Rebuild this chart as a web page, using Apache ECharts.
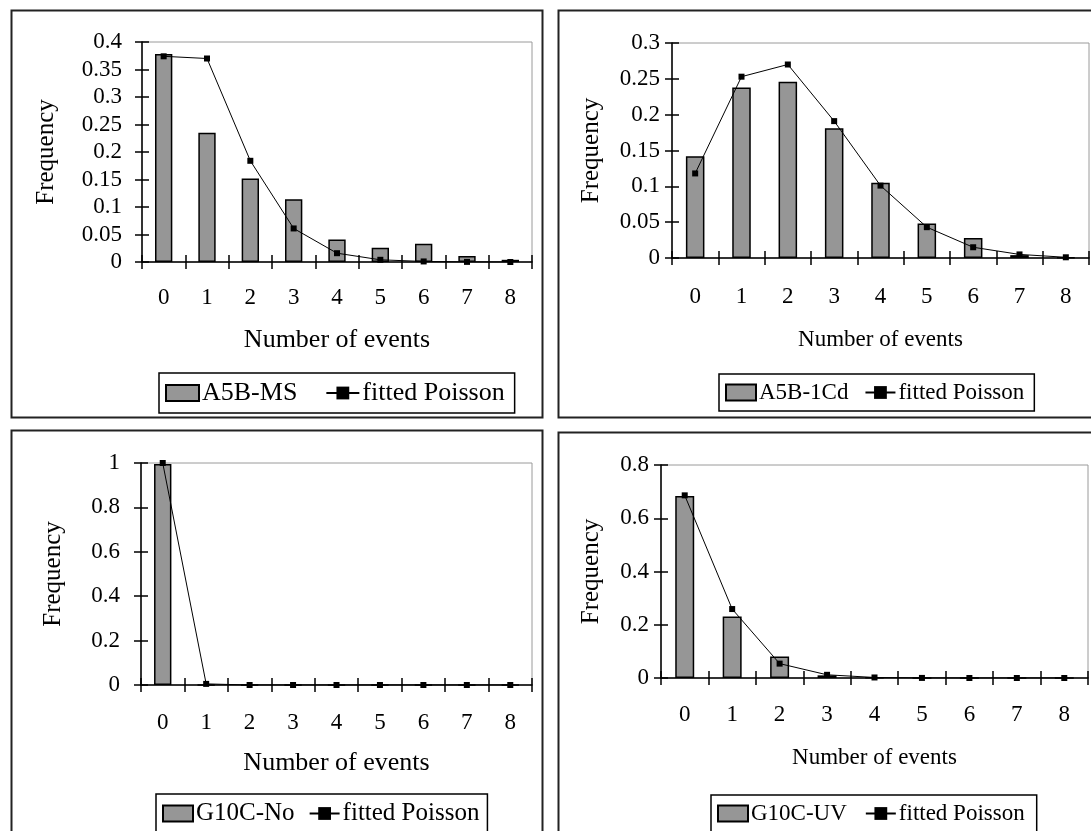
<!DOCTYPE html>
<html>
<head>
<meta charset="utf-8">
<script src="https://cdn.jsdelivr.net/npm/echarts@6/dist/echarts.min.js"></script>
<style>
  html, body { margin: 0; padding: 0; background: #fff; }
  #chart { width: 1091px; height: 831px; }
</style>
</head>
<body>
<div id="chart"></div>
<script>
// Number of events per observation window (shared by all four panels)
const categories = ['0', '1', '2', '3', '4', '5', '6', '7', '8'];

// Observed frequencies and fitted Poisson frequencies, one pair per strain/condition
const a5bMsName = 'A5B-MS';
const a5bMsObserved = [0.378, 0.235, 0.152, 0.114, 0.041, 0.026, 0.033, 0.011, 0.004];
const a5bMsFitted   = [0.374, 0.370, 0.184, 0.061, 0.016, 0.004, 0.001, 0.0002, 0];

const a5b1CdName = 'A5B-1Cd';
const a5b1CdObserved = [0.142, 0.238, 0.246, 0.181, 0.105, 0.048, 0.028, 0.004, 0.001];
const a5b1CdFitted   = [0.118, 0.253, 0.270, 0.191, 0.101, 0.043, 0.015, 0.005, 0.001];

const g10cNoName = 'G10C-No';
const g10cNoObserved = [0.995, 0, 0, 0, 0, 0, 0, 0, 0];
const g10cNoFitted   = [1.0, 0.005, 0, 0, 0, 0, 0, 0, 0];

const g10cUvName = 'G10C-UV';
const g10cUvObserved = [0.684, 0.231, 0.081, 0.010, 0.002, 0, 0, 0, 0];
const g10cUvFitted   = [0.686, 0.259, 0.054, 0.012, 0.002, 0.0003, 0, 0, 0];

const fittedName = 'fitted Poisson';

// Frequency axis ranges per panel: [max, step]
const yMax  = [0.4, 0.3, 1, 0.8];
const yStep = [0.05, 0.05, 0.2, 0.2];

const FONT = 'Liberation Serif';
const TICK_FS = 23;

const panels = [
  { name: a5bMsName,  obs: a5bMsObserved,  fit: a5bMsFitted },
  { name: a5b1CdName, obs: a5b1CdObserved, fit: a5b1CdFitted },
  { name: g10cNoName, obs: g10cNoObserved, fit: g10cNoFitted },
  { name: g10cUvName, obs: g10cUvObserved, fit: g10cUvFitted }
];

// Layout of each panel: plot area, label spacing, legend placement, outer frame
const layout = [
  { grid: { left: 142, top: 42, width: 390, height: 220 }, yMargin: 20, yNameGap: 83, xMargin: 24, xNameGap: 65, xNameFs: 26,
    legend: { left: 159, top: 373, fs: 26, gap: 28, icon: 33, pad: [7, 10, 7, 6] }, frame: { x: 11.5, y: 10.5, width: 531, height: 407 } },
  { grid: { left: 672, top: 43, width: 417, height: 215 }, yMargin: 12, yNameGap: 68, xMargin: 27, xNameGap: 70, xNameFs: 23,
    legend: { left: 719, top: 374, fs: 23, gap: 16, icon: 30, pad: [7, 10, 7, 6] }, frame: { x: 558.5, y: 10.5, width: 600, height: 407 } },
  { grid: { left: 141, top: 463, width: 391, height: 222 }, yMargin: 21, yNameGap: 75, xMargin: 26, xNameGap: 65, xNameFs: 26,
    legend: { left: 156, top: 794, fs: 25, gap: 14, icon: 30, pad: [7, 8, 7, 6] }, frame: { x: 11.5, y: 430.5, width: 531, height: 500 } },
  { grid: { left: 661, top: 465, width: 427, height: 213 }, yMargin: 12, yNameGap: 57, xMargin: 25, xNameGap: 68, xNameFs: 23,
    legend: { left: 711, top: 795, fs: 23, gap: 18, icon: 30, pad: [7, 12, 7, 6] }, frame: { x: 558.5, y: 432.5, width: 600, height: 500 } }
];

const grid = [], xAxis = [], yAxis = [], series = [], legend = [], graphic = [];
const tickLen = 7;

panels.forEach((p, i) => {
  const L = layout[i];
  grid.push(Object.assign({ show: true, borderColor: '#9a9a9a', borderWidth: 1, backgroundColor: 'transparent' }, L.grid));

  // main category axis: labels, name and outward ticks
  xAxis.push({
    type: 'category', gridIndex: i, data: categories, position: 'bottom',
    boundaryGap: true,
    name: 'Number of events', nameLocation: 'middle', nameGap: L.xNameGap,
    nameTextStyle: { fontFamily: FONT, fontSize: L.xNameFs, color: '#000' },
    axisLine: { lineStyle: { color: '#000', width: 1.5 } },
    axisTick: { show: true, length: tickLen, interval: 0, lineStyle: { color: '#000', width: 1.5 } },
    axisLabel: { fontFamily: FONT, fontSize: TICK_FS, color: '#000', margin: L.xMargin, interval: 0 },
    splitLine: { show: false }
  });
  // companion axis giving the inward half of the cross ticks
  xAxis.push({
    type: 'category', gridIndex: i, data: categories, position: 'bottom',
    boundaryGap: true,
    axisLine: { show: false },
    axisTick: { show: true, inside: true, length: tickLen, interval: 0, lineStyle: { color: '#000', width: 1.5 } },
    axisLabel: { show: false },
    splitLine: { show: false }
  });

  yAxis.push({
    type: 'value', gridIndex: i, position: 'left', min: 0, max: yMax[i], interval: yStep[i],
    name: 'Frequency', nameLocation: 'middle', nameRotate: 90, nameGap: L.yNameGap,
    nameTextStyle: { fontFamily: FONT, fontSize: 25, color: '#000' },
    axisLine: { show: true, lineStyle: { color: '#000', width: 1.5 } },
    axisTick: { show: true, length: tickLen, lineStyle: { color: '#000', width: 1.5 } },
    axisLabel: { fontFamily: FONT, fontSize: TICK_FS, color: '#000', margin: L.yMargin },
    splitLine: { show: false }
  });
  yAxis.push({
    type: 'value', gridIndex: i, position: 'left', min: 0, max: yMax[i], interval: yStep[i],
    axisLine: { show: false },
    axisTick: { show: true, inside: true, length: tickLen, lineStyle: { color: '#000', width: 1.5 } },
    axisLabel: { show: false },
    splitLine: { show: false }
  });

  series.push({
    name: p.name, type: 'bar', xAxisIndex: 2 * i, yAxisIndex: 2 * i,
    data: p.obs, barWidth: '40%',
    itemStyle: { color: '#969696', borderColor: '#000', borderWidth: 1.5 },
    z: 2
  });
  series.push({
    name: fittedName, type: 'line', xAxisIndex: 2 * i, yAxisIndex: 2 * i,
    data: p.fit, symbol: 'rect', symbolSize: 6, showSymbol: true,
    lineStyle: { color: '#000', width: 1 },
    itemStyle: { color: '#000' },
    z: 3
  });

  legend.push({
    data: [{ name: p.name, icon: 'rect' }, { name: fittedName }],
    left: L.legend.left, top: L.legend.top,
    orient: 'horizontal',
    padding: L.legend.pad,
    itemGap: L.legend.gap, itemWidth: L.legend.icon, itemHeight: 16,
    borderColor: '#000', borderWidth: 1.5,
    backgroundColor: '#fff',
    textStyle: { fontFamily: FONT, fontSize: L.legend.fs, color: '#000', padding: [0, 0, 0, -2] },
    selectedMode: false
  });

  graphic.push({
    type: 'rect', shape: L.frame, silent: true, z: 0,
    style: { fill: 'none', stroke: '#222', lineWidth: 2 }
  });
});

const chart = echarts.init(document.getElementById('chart'), null, { renderer: 'canvas' });
chart.setOption({
  animation: false,
  backgroundColor: '#fff',
  textStyle: { fontFamily: FONT },
  grid, xAxis, yAxis, series, legend, graphic
});
</script>
</body>
</html>
